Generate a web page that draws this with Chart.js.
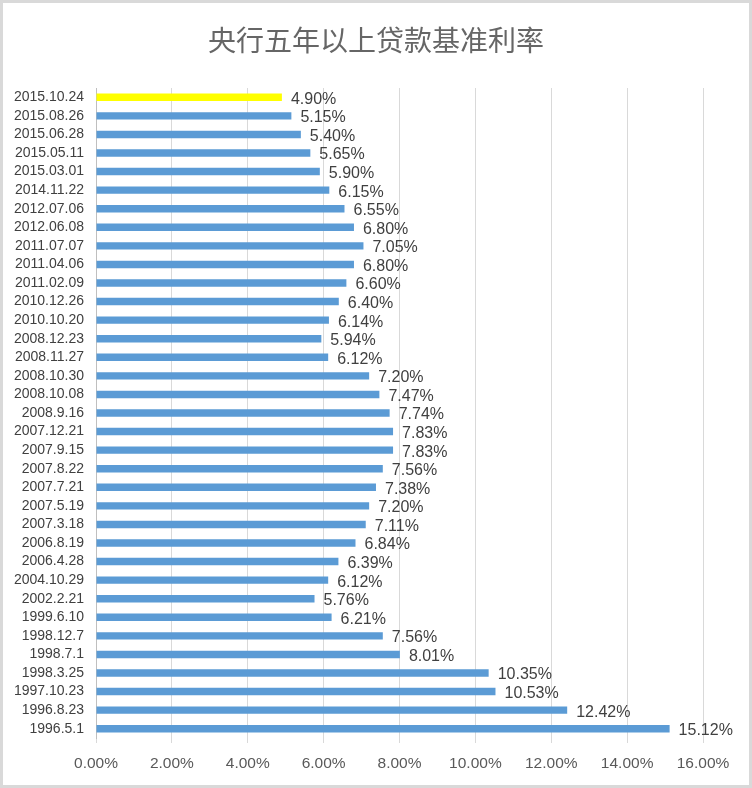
<!DOCTYPE html>
<html>
<head>
<meta charset="utf-8">
<script src="https://cdn.jsdelivr.net/npm/chart.js@4/dist/chart.umd.min.js"></script>
<style>
  html, body { margin: 0; padding: 0; background: #fff; }
  #wrap { width: 752px; height: 788px; }
</style>
</head>
<body>
<div id="wrap"><canvas id="grafico"></canvas></div>
<script>
/* dados do gráfico */
var titulo = '央行五年以上贷款基准利率';

var datas = ['2015.10.24', '2015.08.26', '2015.06.28', '2015.05.11', '2015.03.01', '2014.11.22',
  '2012.07.06', '2012.06.08', '2011.07.07', '2011.04.06', '2011.02.09', '2010.12.26',
  '2010.10.20', '2008.12.23', '2008.11.27', '2008.10.30', '2008.10.08', '2008.9.16',
  '2007.12.21', '2007.9.15', '2007.8.22', '2007.7.21', '2007.5.19', '2007.3.18',
  '2006.8.19', '2006.4.28', '2004.10.29', '2002.2.21', '1999.6.10', '1998.12.7',
  '1998.7.1', '1998.3.25', '1997.10.23', '1996.8.23', '1996.5.1'];

var taxas = [4.90, 5.15, 5.40, 5.65, 5.90, 6.15,
  6.55, 6.80, 7.05, 6.80, 6.60, 6.40,
  6.14, 5.94, 6.12, 7.20, 7.47, 7.74,
  7.83, 7.83, 7.56, 7.38, 7.20, 7.11,
  6.84, 6.39, 6.12, 5.76, 6.21, 7.56,
  8.01, 10.35, 10.53, 12.42, 15.12];

var ticks_x = [0, 2, 4, 6, 8, 10, 12, 14, 16];

// primeira barra amarela, o resto azul
var cores = taxas.map(function (v, i) { return i === 0 ? '#ffff00' : '#5b9bd5'; });

// fundo branco, borda cinza e título centrado na imagem toda
var fundo = {
  id: 'fundo',
  beforeDraw: function (chart) {
    var ctx = chart.ctx;
    ctx.save();
    ctx.fillStyle = '#ffffff';
    ctx.fillRect(0, 0, chart.width, chart.height);
    ctx.strokeStyle = '#d9d9d9';
    ctx.lineWidth = 3;
    ctx.strokeRect(1.5, 1.5, chart.width - 3, chart.height - 3);
    ctx.fillStyle = '#666666';
    ctx.font = '28px "Noto Sans CJK SC", sans-serif';
    ctx.textAlign = 'center';
    ctx.textBaseline = 'middle';
    ctx.fillText(titulo, chart.width / 2, 40);
    ctx.restore();
  }
};

// rótulos com o valor no fim de cada barra
var rotulos = {
  id: 'rotulos',
  afterDatasetsDraw: function (chart) {
    var ctx = chart.ctx;
    var meta = chart.getDatasetMeta(0);
    ctx.save();
    ctx.font = '16px "Liberation Sans", Arial, sans-serif';
    ctx.fillStyle = '#404040';
    ctx.textAlign = 'left';
    ctx.textBaseline = 'middle';
    meta.data.forEach(function (bar, i) {
      ctx.fillText(taxas[i].toFixed(2) + '%', bar.x + 9, bar.y + 2);
    });
    ctx.restore();
  }
};

var ctx = document.getElementById('grafico').getContext('2d');
var grafico = new Chart(ctx, {
  type: 'bar',
  data: {
    labels: datas,
    datasets: [{
      data: taxas,
      backgroundColor: cores,
      borderWidth: 0,
      categoryPercentage: 1,
      barPercentage: 0.4
    }]
  },
  options: {
    indexAxis: 'y',
    responsive: true,
    maintainAspectRatio: false,
    animation: false,
    layout: { padding: { left: 0, right: 49, top: 88, bottom: 0 } },
    plugins: {
      legend: { display: false },
      tooltip: { enabled: false },
      title: { display: false }
    },
    scales: {
      x: {
        min: 0,
        max: 16,
        afterBuildTicks: function (scale) {
          scale.ticks = ticks_x.map(function (v) { return { value: v }; });
        },
        afterFit: function (scale) { scale.height = 50; },
        grid: { color: '#d9d9d9', tickLength: 5, drawTicks: true },
        border: { display: false },
        ticks: {
          color: '#595959',
          padding: 11,
          font: { family: '"Liberation Sans", Arial, sans-serif', size: 15.5 },
          callback: function (v) { return v.toFixed(2) + '%'; }
        }
      },
      y: {
        afterFit: function (scale) { scale.width = 96; },
        grid: { display: false },
        border: { display: true, color: '#bfbfbf' },
        ticks: {
          color: '#404040',
          padding: 4,
          autoSkip: false,
          font: { family: '"Liberation Sans", Arial, sans-serif', size: 14 }
        }
      }
    }
  },
  plugins: [fundo, rotulos]
});
</script>
</body>
</html>
